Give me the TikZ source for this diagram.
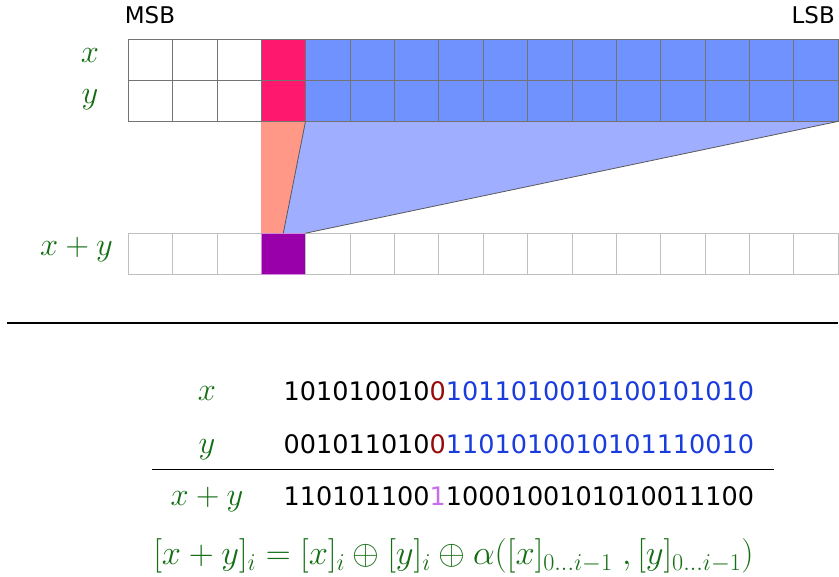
\RequirePackage{fix-cm}
\documentclass[tikz,border=0pt]{standalone}
\usepackage{fontspec}
\setsansfont{DejaVu Sans}
\usetikzlibrary{positioning, backgrounds}
\definecolor{labgreen}{RGB}{20, 110, 20}
\definecolor{carrypink}{RGB}{255, 25, 110}
\definecolor{lowblue}{RGB}{112, 146, 255}
\definecolor{fanblue}{RGB}{160, 174, 255}
\definecolor{fansalmon}{RGB}{255, 152, 135}
\definecolor{sumpurple}{RGB}{153, 0, 170}
\definecolor{bitred}{RGB}{150, 10, 10}
\definecolor{bitblue}{RGB}{25, 60, 220}
\definecolor{bitviolet}{RGB}{200, 110, 235}

\begin{document}
\begin{tikzpicture}[
  x=1pt, y=-1pt,
  bitcell/.style={draw=black!55, minimum width=44.375pt, minimum height=41pt, inner sep=0pt, outer sep=0pt},
  sumcell/.style={bitcell, draw=black!25},
  reglab/.style={text=labgreen, font=\fontsize{32.5}{38}\selectfont, anchor=mid, inner sep=0pt},
  rowlab/.style={text=labgreen, font=\fontsize{32.5}{38}\selectfont, anchor=base, inner sep=0pt},
  bits/.style={font=\sffamily\fontsize{25.5}{30}\selectfont, anchor=base west, inner sep=0pt},
  endlab/.style={font=\sffamily\fontsize{23}{28}\selectfont, anchor=base, inner sep=0pt},
  fanedge/.style={draw=black!65, line width=0.8pt}
]
\useasboundingbox (0,0) rectangle (839,577);

% registers x, y and the sum
\foreach \i in {1,...,16}{
  \ifnum\i<4 \colorlet{cellc}{white}\else\colorlet{cellc}{lowblue}\fi
  \ifnum\i=4 \colorlet{cellc}{carrypink}\fi
  \node[bitcell, fill=cellc] (x\i) at ({128+44.375*(\i-0.5)},59.9) {};
  \node[bitcell, fill=cellc] (y\i) at ({128+44.375*(\i-0.5)},100.9) {};
  \ifnum\i=4
    \node[sumcell, fill=sumpurple, draw=sumpurple!45] (s\i) at ({128+44.375*(\i-0.5)},253.7) {};
  \else
    \node[sumcell] (s\i) at ({128+44.375*(\i-0.5)},253.7) {};
  \fi
}

\begin{scope}[on background layer]
\fill[fansalmon] (y4.south west) -- (y4.south east) -- (s4.north) -- (s4.north west) -- cycle;
\fill[fanblue] (y4.south east) -- (y16.south east) -- (s4.north east) -- (s4.north) -- cycle;
\end{scope}
\draw[fanedge] (y4.south east) -- (s4.north);
\draw[fanedge] (y16.south east) -- (s4.north east);

\node[endlab] (msb) at (150,24) {MSB};
\node[endlab, anchor=base east] (lsb) at (835,24) {LSB};

\node[reglab] (xlab) at (90,59.9) {$x$};
\node[reglab] (ylab) at (90,100.9) {$y$};
\node[reglab, anchor=mid east] (slab) at (113,253.7) {$x+y$};

\draw[line width=2pt] (7,323) -- (838,323);

% the same sum, bit by bit
\node[rowlab] (xrow) at (207,400.7) {$x$};
\node[rowlab] (yrow) at (207,453.2) {$y$};
\node[rowlab] (srow) at (207,505.7) {$x+y$};

\node[bits] (xbits) at (283.5,400.7) {101010010\textcolor{bitred}{0}\textcolor{bitblue}{1011010010100101010}};
\node[bits] (ybits) at (283.5,453.2) {001011010\textcolor{bitred}{0}\textcolor{bitblue}{1101010010101110010}};
\node[bits] (sbits) at (283.5,505.7) {110101100\textcolor{bitviolet}{1}1000100101010011100};

\draw[line width=1pt] (152,470) -- (774,470);

\node[rowlab, font=\fontsize{34.5}{40}\selectfont] (carryrule) at (453.5,565)
  {$[x+y]_i = [x]_i \oplus [y]_i \oplus \alpha([x]_{0\ldots i-1}\;, [y]_{0\ldots i-1})$};
\end{tikzpicture}
\end{document}
